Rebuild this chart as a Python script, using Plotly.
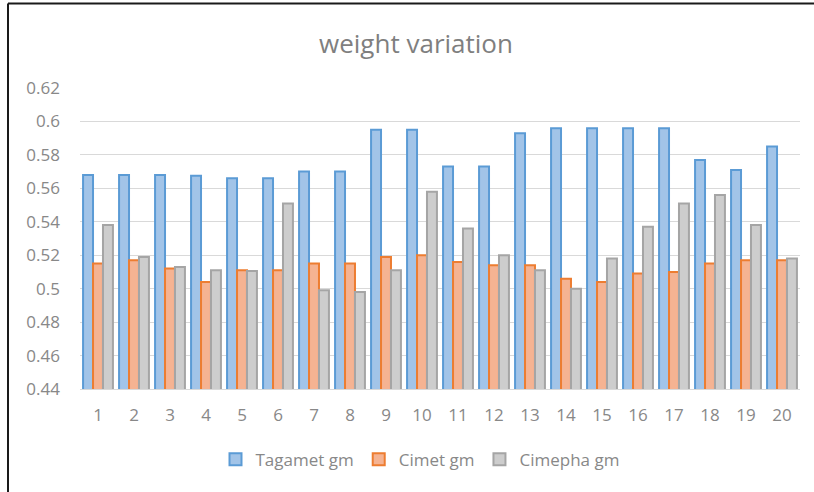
import plotly.graph_objects as go

samples = [str(i) for i in range(1, 21)]

tagamet = [0.568, 0.568, 0.568, 0.5675, 0.566, 0.566, 0.570, 0.570, 0.595, 0.595,
           0.573, 0.573, 0.593, 0.596, 0.596, 0.596, 0.596, 0.577, 0.571, 0.585]
cimet = [0.515, 0.517, 0.512, 0.504, 0.511, 0.511, 0.515, 0.515, 0.519, 0.520,
         0.516, 0.514, 0.514, 0.506, 0.504, 0.509, 0.510, 0.515, 0.517, 0.517]
cimepha = [0.538, 0.519, 0.513, 0.511, 0.5105, 0.551, 0.499, 0.498, 0.511, 0.558,
           0.536, 0.520, 0.511, 0.500, 0.518, 0.537, 0.551, 0.556, 0.538, 0.518]

series = [
    ("Tagamet gm", tagamet, "#A2C4E8", "#5B9BD5"),
    ("Cimet gm", cimet, "#F5B392", "#ED7D31"),
    ("Cimepha gm", cimepha, "#CDCDCD", "#A5A5A5"),
]

FONT = "Open Sans"
TEXT = "#888888"

fig = go.Figure()
for name, vals, fill, edge in series:
    fig.add_trace(go.Bar(
        x=samples, y=vals, name=name,
        marker=dict(color=fill, line=dict(color=edge, width=2)),
    ))

fig.update_layout(
    width=814, height=492,
    margin=dict(l=80, r=14, t=88, b=103),
    paper_bgcolor="white", plot_bgcolor="white",
    barmode="group", bargap=0.17, bargroupgap=0.0,
    title=dict(text="weight variation", x=(416 - 80) / 720, xanchor="center",
               xref="paper",
               y=1 - 44 / 492, yanchor="middle",
               font=dict(family=FONT, size=26, color="#7F7F7F")),
    font=dict(family=FONT, color=TEXT, size=16),
    legend=dict(orientation="h", x=(420 - 80) / 720, xanchor="center",
                y=-0.235, yanchor="middle",
                font=dict(family=FONT, size=17, color=TEXT),
                itemwidth=30, traceorder="normal"),
    xaxis=dict(type="category", showgrid=False, showline=True,
               linecolor="#D9D9D9", linewidth=1, ticks="",
               ticklabelstandoff=11,
               tickfont=dict(family=FONT, size=17, color=TEXT)),
    yaxis=dict(range=[0.44, 0.62], dtick=0.02, tick0=0.44,
               showgrid=True, gridcolor="#D9D9D9", gridwidth=1,
               zeroline=False, showline=False, ticks="",
               tickformat="~g", ticklabelstandoff=19,
               tickfont=dict(family=FONT, size=17, color=TEXT)),
    shapes=[
        dict(type="line", xref="paper", yref="paper",
             x0=(8 - 80) / 720, x1=(814 - 80) / 720 + 0.02,
             y0=1 + (88 - 3.5) / 301, y1=1 + (88 - 3.5) / 301,
             line=dict(color="#1a1a1a", width=2)),
        dict(type="line", xref="paper", yref="paper",
             x0=(8 - 80) / 720, x1=(8 - 80) / 720,
             y0=1 + (88 - 3.5) / 301, y1=-(492 - 389) / 301 - 0.02,
             line=dict(color="#1a1a1a", width=2)),
    ],
)

fig.write_html("out.html")
